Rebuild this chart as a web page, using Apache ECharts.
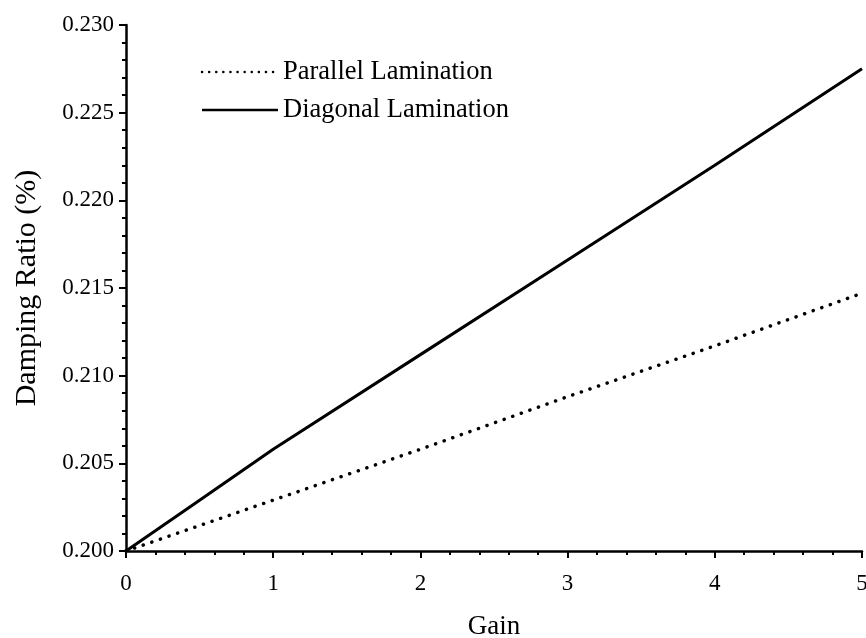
<!DOCTYPE html>
<html><head><meta charset="utf-8">
<script src="https://cdn.jsdelivr.net/npm/echarts@6/dist/echarts.min.js"></script>
<style>html,body{margin:0;padding:0;background:#fff}#c{width:866px;height:638px}</style>
</head><body><div id="c"></div>
<script>
const gain = [0, 0.5, 1, 2, 3, 4, 5];
const parallel = [0.2000, 0.20145, 0.2029, 0.2058, 0.2088, 0.2117, 0.2147];
const diagonal = [0.2000, 0.2029, 0.2058, 0.2112, 0.2166, 0.2220, 0.2275];
const names = ['Parallel Lamination', 'Diagonal Lamination'];
const FONT = 'Liberation Serif';
const chart = echarts.init(document.getElementById('c'));
const tickStyle = {color: '#000', width: 2};
chart.setOption({
  animation: false,
  backgroundColor: '#fff',
  grid: {left: 126, right: 4, top: 25, bottom: 87, containLabel: false, outerBoundsMode: 'none'},
  xAxis: {
    type: 'value', min: 0, max: 5, interval: 1,
    axisLine: {show: true, lineStyle: {color: '#000', width: 2.5}},
    axisTick: {show: true, inside: false, length: 7, lineStyle: tickStyle},
    minorTick: {show: true, splitNumber: 5, length: 4, lineStyle: tickStyle},
    splitLine: {show: false},
    axisLabel: {color: '#000', fontFamily: FONT, fontSize: 23, margin: 21},
    name: 'Gain', nameLocation: 'middle', nameGap: 62,
    nameTextStyle: {color: '#000', fontFamily: FONT, fontSize: 27}
  },
  yAxis: {
    type: 'value', min: 0.200, max: 0.230, interval: 0.005,
    axisLine: {show: true, lineStyle: {color: '#000', width: 2.5}},
    axisTick: {show: true, inside: false, length: 7, lineStyle: tickStyle},
    minorTick: {show: true, splitNumber: 5, length: 4, lineStyle: tickStyle},
    splitLine: {show: false},
    axisLabel: {color: '#000', fontFamily: FONT, fontSize: 23, margin: 12, formatter: v => v.toFixed(3)},
    name: 'Damping Ratio (%)', nameLocation: 'middle', nameGap: 84, nameRotate: 90,
    nameTextStyle: {color: '#000', fontFamily: FONT, fontSize: 30}
  },
  graphic: [
    {type: 'line', shape: {x1: 202, y1: 72, x2: 278, y2: 72},
     style: {stroke: '#000', lineWidth: 2.5, lineDash: [0.1, 7], lineCap: 'round'}},
    {type: 'text', left: 283, top: 59, style: {text: names[0], fill: '#000', font: '26.5px "Liberation Serif"'}},
    {type: 'line', shape: {x1: 202, y1: 110, x2: 278, y2: 110},
     style: {stroke: '#000', lineWidth: 2.5}},
    {type: 'text', left: 283, top: 97, style: {text: names[1], fill: '#000', font: '26.5px "Liberation Serif"'}}
  ],
  series: [
    {name: names[0], type: 'line', symbol: 'none', data: gain.map((g,i)=>[g, parallel[i]]),
     lineStyle: {color: '#000', width: 3.5, type: [0.1, 9], cap: 'round'}},
    {name: names[1], type: 'line', symbol: 'none', data: gain.map((g,i)=>[g, diagonal[i]]),
     lineStyle: {color: '#000', width: 3}}
  ]
});
</script></body></html>
